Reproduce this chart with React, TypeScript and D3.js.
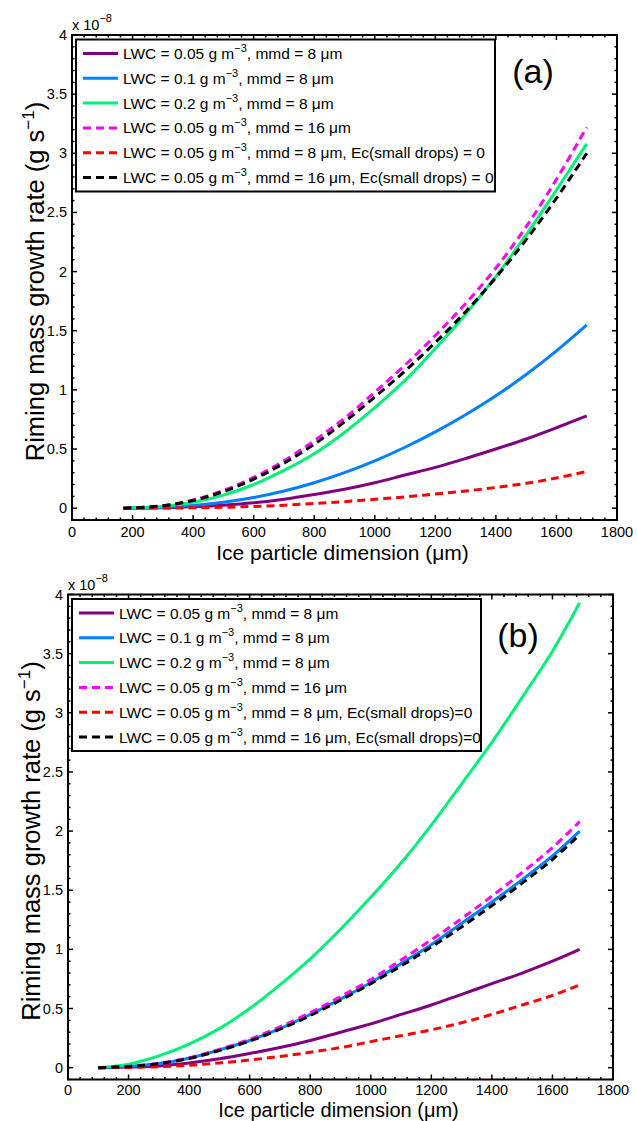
import React from "react";
import * as d3 from "d3";

// ---------- data ----------
const xA = [170, 300, 400, 500, 600, 700, 800, 900, 1000, 1100, 1200, 1300, 1400, 1500, 1600, 1700];
const purpleA = [0, 0.003, 0.012, 0.025, 0.045, 0.075, 0.115, 0.16, 0.215, 0.28, 0.345, 0.42, 0.5, 0.585, 0.68, 0.78];
const blueA = [0, 0.006, 0.022, 0.05, 0.09, 0.145, 0.215, 0.3, 0.4, 0.515, 0.645, 0.79, 0.95, 1.13, 1.33, 1.55];
const greenA = [0, 0.015, 0.05, 0.11, 0.2, 0.32, 0.46, 0.64, 0.85, 1.08, 1.35, 1.64, 1.96, 2.31, 2.69, 3.08];
const magentaA = [0, 0.02, 0.07, 0.15, 0.26, 0.4, 0.57, 0.76, 0.98, 1.21, 1.46, 1.73, 2.03, 2.38, 2.78, 3.22];
const redA = [0, 0.001, 0.003, 0.008, 0.015, 0.025, 0.04, 0.055, 0.075, 0.095, 0.12, 0.145, 0.175, 0.21, 0.255, 0.31];
const blackA = [0, 0.02, 0.065, 0.14, 0.245, 0.38, 0.54, 0.73, 0.94, 1.16, 1.4, 1.66, 1.95, 2.27, 2.62, 3.0];

const xB = [100, 200, 300, 400, 500, 600, 700, 800, 900, 1000, 1100, 1200, 1300, 1400, 1500, 1600, 1690];
const purpleB = [0, 0.005, 0.015, 0.04, 0.075, 0.12, 0.17, 0.23, 0.3, 0.37, 0.45, 0.53, 0.62, 0.71, 0.8, 0.9, 1.0];
const blueB = [0, 0.01, 0.035, 0.08, 0.15, 0.23, 0.33, 0.45, 0.58, 0.72, 0.88, 1.04, 1.22, 1.4, 1.59, 1.79, 2.0];
const greenB = [0, 0.03, 0.1, 0.2, 0.33, 0.5, 0.7, 0.92, 1.17, 1.44, 1.73, 2.05, 2.4, 2.75, 3.13, 3.52, 3.93];
const magentaB = [0, 0.01, 0.037, 0.083, 0.155, 0.24, 0.345, 0.465, 0.6, 0.745, 0.91, 1.08, 1.26, 1.45, 1.65, 1.86, 2.08];
const redB = [0, 0.002, 0.008, 0.02, 0.04, 0.065, 0.095, 0.13, 0.17, 0.22, 0.27, 0.32, 0.38, 0.45, 0.53, 0.61, 0.7];
const blackB = [0, 0.01, 0.034, 0.078, 0.145, 0.225, 0.325, 0.44, 0.57, 0.71, 0.86, 1.02, 1.19, 1.37, 1.56, 1.76, 1.97];

const seriesLWC = ["0.05", "0.1", "0.2", "0.05", "0.05", "0.05"];
const seriesMMD = ["8", "8", "8", "16", "8", "16"];
const seriesEc = [false, false, false, false, true, true];
const seriesColors = ["#800080", "#0080ff", "#00f078", "#ff00ff", "#ff0000", "#000000"];
const seriesDashed = [false, false, false, true, true, true];

const xTicks = [0, 200, 400, 600, 800, 1000, 1200, 1400, 1600, 1800];
const yTicks = [0, 0.5, 1, 1.5, 2, 2.5, 3, 3.5, 4];

const FONT = "'Liberation Sans', Arial, Helvetica, sans-serif";

type PanelProps = {
  left: number;
  top: number;
  xs: number[];
  ys: number[][];
  label: string;
  ecText: string;
  legendW: number;
  tagX: number;
  tagY: number;
  xLabelOff: number;
  xLabelSize: number;
  tickOff: number;
};

function Panel({ left, top, xs, ys, label, ecText, legendW, tagX, tagY, xLabelOff, xLabelSize, tickOff }: PanelProps) {
  const W = 545;
  const H = 485;
  const x = d3.scaleLinear().domain([0, 1800]).range([0, W]);
  const y = d3.scaleLinear().domain([-0.1, 4]).range([H, 0]);
  const line = d3
    .line<[number, number]>()
    .x((d) => x(d[0]))
    .y((d) => y(d[1]))
    .curve(d3.curveCatmullRom.alpha(0.5));

  const xMinor = d3.range(0, 1801, 40).filter((v) => v % 200 !== 0);
  const yMinor = d3.range(-1, 41).map((v) => v / 10).filter((v) => Math.round(v * 10) % 5 !== 0);
  const maj = 5;
  const mnr = 2.5;

  const legX = 4;
  const legY = 4.5;
  const legH = 152;
  const rowH = 24.8;

  return (
    <g transform={`translate(${left},${top})`}>
      {/* curves */}
      {ys.map((s, i) => (
        <path
          key={i}
          d={line(xs.map((xv, j) => [xv, s[j]] as [number, number])) || ""}
          fill="none"
          stroke={seriesColors[i]}
          strokeWidth={3}
          strokeDasharray={seriesDashed[i] ? "8,5" : undefined}
        />
      ))}
      {/* ticks */}
      <g stroke="#000" strokeWidth={1.5}>
        {xTicks.map((t) => (
          <g key={"xt" + t}>
            <line x1={x(t)} x2={x(t)} y1={H} y2={H - maj} />
            <line x1={x(t)} x2={x(t)} y1={0} y2={maj} />
          </g>
        ))}
        {xMinor.map((t) => (
          <g key={"xm" + t}>
            <line x1={x(t)} x2={x(t)} y1={H} y2={H - mnr} />
            <line x1={x(t)} x2={x(t)} y1={0} y2={mnr} />
          </g>
        ))}
        {yTicks.map((t) => (
          <g key={"yt" + t}>
            <line x1={0} x2={maj} y1={y(t)} y2={y(t)} />
            <line x1={W} x2={W - maj} y1={y(t)} y2={y(t)} />
          </g>
        ))}
        {yMinor.map((t) => (
          <g key={"ym" + t}>
            <line x1={0} x2={mnr} y1={y(t)} y2={y(t)} />
            <line x1={W} x2={W - mnr} y1={y(t)} y2={y(t)} />
          </g>
        ))}
      </g>
      <rect x={0} y={0} width={W} height={H} fill="none" stroke="#000" strokeWidth={2} />
      {/* tick labels */}
      <g fontFamily={FONT} fontSize={14.5} fill="#000">
        {xTicks.map((t) => (
          <text key={"xl" + t} x={x(t)} y={H + tickOff} textAnchor="middle">
            {String(t)}
          </text>
        ))}
        {yTicks.map((t) => (
          <text key={"yl" + t} x={-5} y={y(t) + 5} textAnchor="end">
            {String(t)}
          </text>
        ))}
        <text x={0} y={-5}>
          x 10
          <tspan dy={-8} fontSize={11}>
            −8
          </tspan>
        </text>
      </g>
      {/* axis labels */}
      <text
        x={W / 2 - 2}
        y={H + xLabelOff}
        textAnchor="middle"
        fontFamily={FONT}
        fontSize={xLabelSize}
      >
        Ice particle dimension (μm)
      </text>
      <text
        transform={`translate(${-28},${H / 2 + 4}) rotate(-90)`}
        textAnchor="middle"
        fontFamily={FONT}
        fontSize={25.5}
      >
        Riming mass growth rate (g s
        <tspan dy={-10} fontSize={17}>
          −1
        </tspan>
        <tspan dy={10}>)</tspan>
      </text>
      {/* panel tag */}
      <text x={tagX} y={tagY} textAnchor="middle" fontFamily={FONT} fontSize={34}>
        {label}
      </text>
      {/* legend */}
      <rect x={legX} y={legY} width={legendW} height={legH} fill="#fff" stroke="#000" strokeWidth={2} />
      {seriesColors.map((c, i) => {
        const cy = legY + 14 + i * rowH;
        return (
          <g key={"lg" + i}>
            <line
              x1={legX + 7}
              x2={legX + 42}
              y1={cy}
              y2={cy}
              stroke={c}
              strokeWidth={3}
              strokeDasharray={seriesDashed[i] ? "8,5" : undefined}
            />
            <text x={legX + 47} y={cy + 5.5} fontFamily={FONT} fontSize={15.5}>
              {`LWC = ${seriesLWC[i]} g m`}
              <tspan dy={-7} fontSize={11}>
                −3
              </tspan>
              <tspan dy={7}>{`, mmd = ${seriesMMD[i]} μm${seriesEc[i] ? ", " + ecText : ""}`}</tspan>
            </text>
          </g>
        );
      })}
    </g>
  );
}

export default function App() {
  React.useEffect(() => {
    document.body.style.margin = "0";
  }, []);
  return (
    <div style={{ position: "absolute", left: 0, top: 0 }}>
      <svg width={637} height={1121} style={{ display: "block", background: "#fff" }}>
        <rect width={637} height={1121} fill="#fff" />
        <Panel
          left={72}
          top={35}
          xs={xA}
          ys={[purpleA, blueA, greenA, magentaA, redA, blackA]}
          label="(a)"
          ecText="Ec(small drops) = 0"
          legendW={419}
          tagX={461}
          tagY={48}
          xLabelOff={40}
          xLabelSize={21}
          tickOff={17}
        />
        <Panel
          left={68}
          top={594.5}
          xs={xB}
          ys={[purpleB, blueB, greenB, magentaB, redB, blackB]}
          label="(b)"
          ecText="Ec(small drops)=0"
          legendW={409}
          tagX={450}
          tagY={52.5}
          xLabelOff={37}
          xLabelSize={20}
          tickOff={15}
        />
      </svg>
    </div>
  );
}
